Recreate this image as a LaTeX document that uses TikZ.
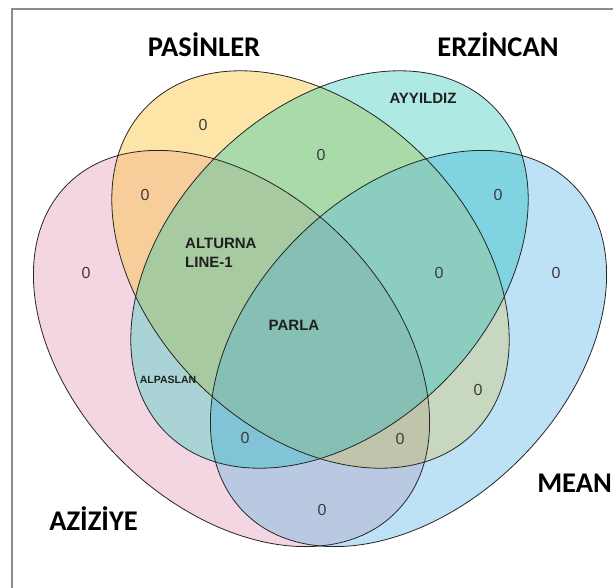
\documentclass[tikz,border=0pt]{standalone}
\usepackage{fontspec}
\setmainfont{Liberation Sans}
\newfontfamily\titlefont{Carlito}
\definecolor{cP}{RGB}{243,214,226}
\definecolor{cY}{RGB}{253,229,168}
\definecolor{cT}{RGB}{175,233,228}
\definecolor{cB}{RGB}{190,226,245}
\definecolor{cPY}{RGB}{247,205,153}
\definecolor{cPT}{RGB}{170,211,213}
\definecolor{cPB}{RGB}{186,201,226}
\definecolor{cYT}{RGB}{168,218,170}
\definecolor{cYB}{RGB}{200,216,192}
\definecolor{cTB}{RGB}{128,211,224}
\definecolor{cPYT}{RGB}{167,202,160}
\definecolor{cPTB}{RGB}{128,196,214}
\definecolor{cPYB}{RGB}{191,196,171}
\definecolor{cYTB}{RGB}{139,205,190}
\definecolor{cPYTB}{RGB}{134,191,179}
\definecolor{framec}{RGB}{140,140,140}
\definecolor{numc}{RGB}{60,60,60}
\tikzset{
  eP/.style={shift={(231.5,238.5)}, rotate=-45},
  eB/.style={shift={(408.5,238.5)}, rotate=45},
  eY/.style={shift={(310.5,317.5)}, rotate=-45},
  eT/.style={shift={(329.5,317.5)}, rotate=45},
  outline/.style={draw=black!85, line width=0.8pt},
  setname/.style={font=\titlefont\bfseries\fontsize{28.5}{30}\selectfont, inner sep=0pt, text=black},
  num/.style={font=\fontsize{16}{18}\selectfont, inner sep=0pt, text=numc},
  item/.style={font=\bfseries\fontsize{15}{17}\selectfont, inner sep=0pt, text=black!88},
  smallitem/.style={font=\bfseries\fontsize{10.5}{12}\selectfont, inner sep=0pt, text=black!88}
}
\begin{document}
\begin{tikzpicture}[x=1pt,y=1pt]
\useasboundingbox (0,0) rectangle (613,587);
\fill[white] (0,0) rectangle (613,587);
% frame
\draw[framec, line width=1.4pt] (12,-10) -- (12,578) -- (630,578);
% single sets
\fill[cP, eP] (0,0) ellipse [x radius=232pt, y radius=157pt];
\fill[cB, eB] (0,0) ellipse [x radius=232pt, y radius=157pt];
\fill[cY, eY] (0,0) ellipse [x radius=231pt, y radius=160pt];
\fill[cT, eT] (0,0) ellipse [x radius=231pt, y radius=160pt];
% pairs
\begin{scope}\clip[eP] (0,0) ellipse [x radius=232pt, y radius=157pt];
  \fill[cPY, eY] (0,0) ellipse [x radius=231pt, y radius=160pt];\end{scope}
\begin{scope}\clip[eP] (0,0) ellipse [x radius=232pt, y radius=157pt];
  \fill[cPT, eT] (0,0) ellipse [x radius=231pt, y radius=160pt];\end{scope}
\begin{scope}\clip[eP] (0,0) ellipse [x radius=232pt, y radius=157pt];
  \fill[cPB, eB] (0,0) ellipse [x radius=232pt, y radius=157pt];\end{scope}
\begin{scope}\clip[eY] (0,0) ellipse [x radius=231pt, y radius=160pt];
  \fill[cYT, eT] (0,0) ellipse [x radius=231pt, y radius=160pt];\end{scope}
\begin{scope}\clip[eY] (0,0) ellipse [x radius=231pt, y radius=160pt];
  \fill[cYB, eB] (0,0) ellipse [x radius=232pt, y radius=157pt];\end{scope}
\begin{scope}\clip[eT] (0,0) ellipse [x radius=231pt, y radius=160pt];
  \fill[cTB, eB] (0,0) ellipse [x radius=232pt, y radius=157pt];\end{scope}
% triples
\begin{scope}\clip[eP] (0,0) ellipse [x radius=232pt, y radius=157pt];
  \clip[eY] (0,0) ellipse [x radius=231pt, y radius=160pt];
  \fill[cPYT, eT] (0,0) ellipse [x radius=231pt, y radius=160pt];\end{scope}
\begin{scope}\clip[eP] (0,0) ellipse [x radius=232pt, y radius=157pt];
  \clip[eT] (0,0) ellipse [x radius=231pt, y radius=160pt];
  \fill[cPTB, eB] (0,0) ellipse [x radius=232pt, y radius=157pt];\end{scope}
\begin{scope}\clip[eP] (0,0) ellipse [x radius=232pt, y radius=157pt];
  \clip[eY] (0,0) ellipse [x radius=231pt, y radius=160pt];
  \fill[cPYB, eB] (0,0) ellipse [x radius=232pt, y radius=157pt];\end{scope}
\begin{scope}\clip[eY] (0,0) ellipse [x radius=231pt, y radius=160pt];
  \clip[eT] (0,0) ellipse [x radius=231pt, y radius=160pt];
  \fill[cYTB, eB] (0,0) ellipse [x radius=232pt, y radius=157pt];\end{scope}
% all four
\begin{scope}\clip[eP] (0,0) ellipse [x radius=232pt, y radius=157pt];
  \clip[eY] (0,0) ellipse [x radius=231pt, y radius=160pt];
  \clip[eT] (0,0) ellipse [x radius=231pt, y radius=160pt];
  \fill[cPYTB, eB] (0,0) ellipse [x radius=232pt, y radius=157pt];\end{scope}
% outlines
\draw[outline, eP] (0,0) ellipse [x radius=232pt, y radius=157pt];
\draw[outline, eY] (0,0) ellipse [x radius=231pt, y radius=160pt];
\draw[outline, eT] (0,0) ellipse [x radius=231pt, y radius=160pt];
\draw[outline, eB] (0,0) ellipse [x radius=232pt, y radius=157pt];
% set names
\node[setname, anchor=base] (pasinler) at (204,530) {PASİNLER};
\node[setname, anchor=base] (erzincan) at (498,530) {ERZİNCAN};
\node[setname, anchor=base] (aziziye) at (93.5,57) {AZİZİYE};
\node[setname, anchor=base east] (mean) at (612,95) {MEAN};
% region labels
\node[num] (n1) at (203,462) {0};
\node[num] (n2) at (145,392) {0};
\node[num] (n3) at (86,314) {0};
\node[num] (n4) at (321,432) {0};
\node[num] (n5) at (498,392) {0};
\node[num] (n6) at (439,314) {0};
\node[num] (n7) at (556,314) {0};
\node[num] (n8) at (478,197) {0};
\node[num] (n9) at (400,148) {0};
\node[num] (n10) at (245,149) {0};
\node[num] (n11) at (322,77) {0};
\node[item] (ayyildiz) at (423,489) {AYYILDIZ};
\node[item, anchor=west] (alturna) at (185,344) {ALTURNA};
\node[item, anchor=west] (line1) at (185,325) {LINE-1};
\node[item] (parla) at (294,262) {PARLA};
\node[smallitem] (alpaslan) at (168,207) {ALPASLAN};
\end{tikzpicture}
\end{document}
